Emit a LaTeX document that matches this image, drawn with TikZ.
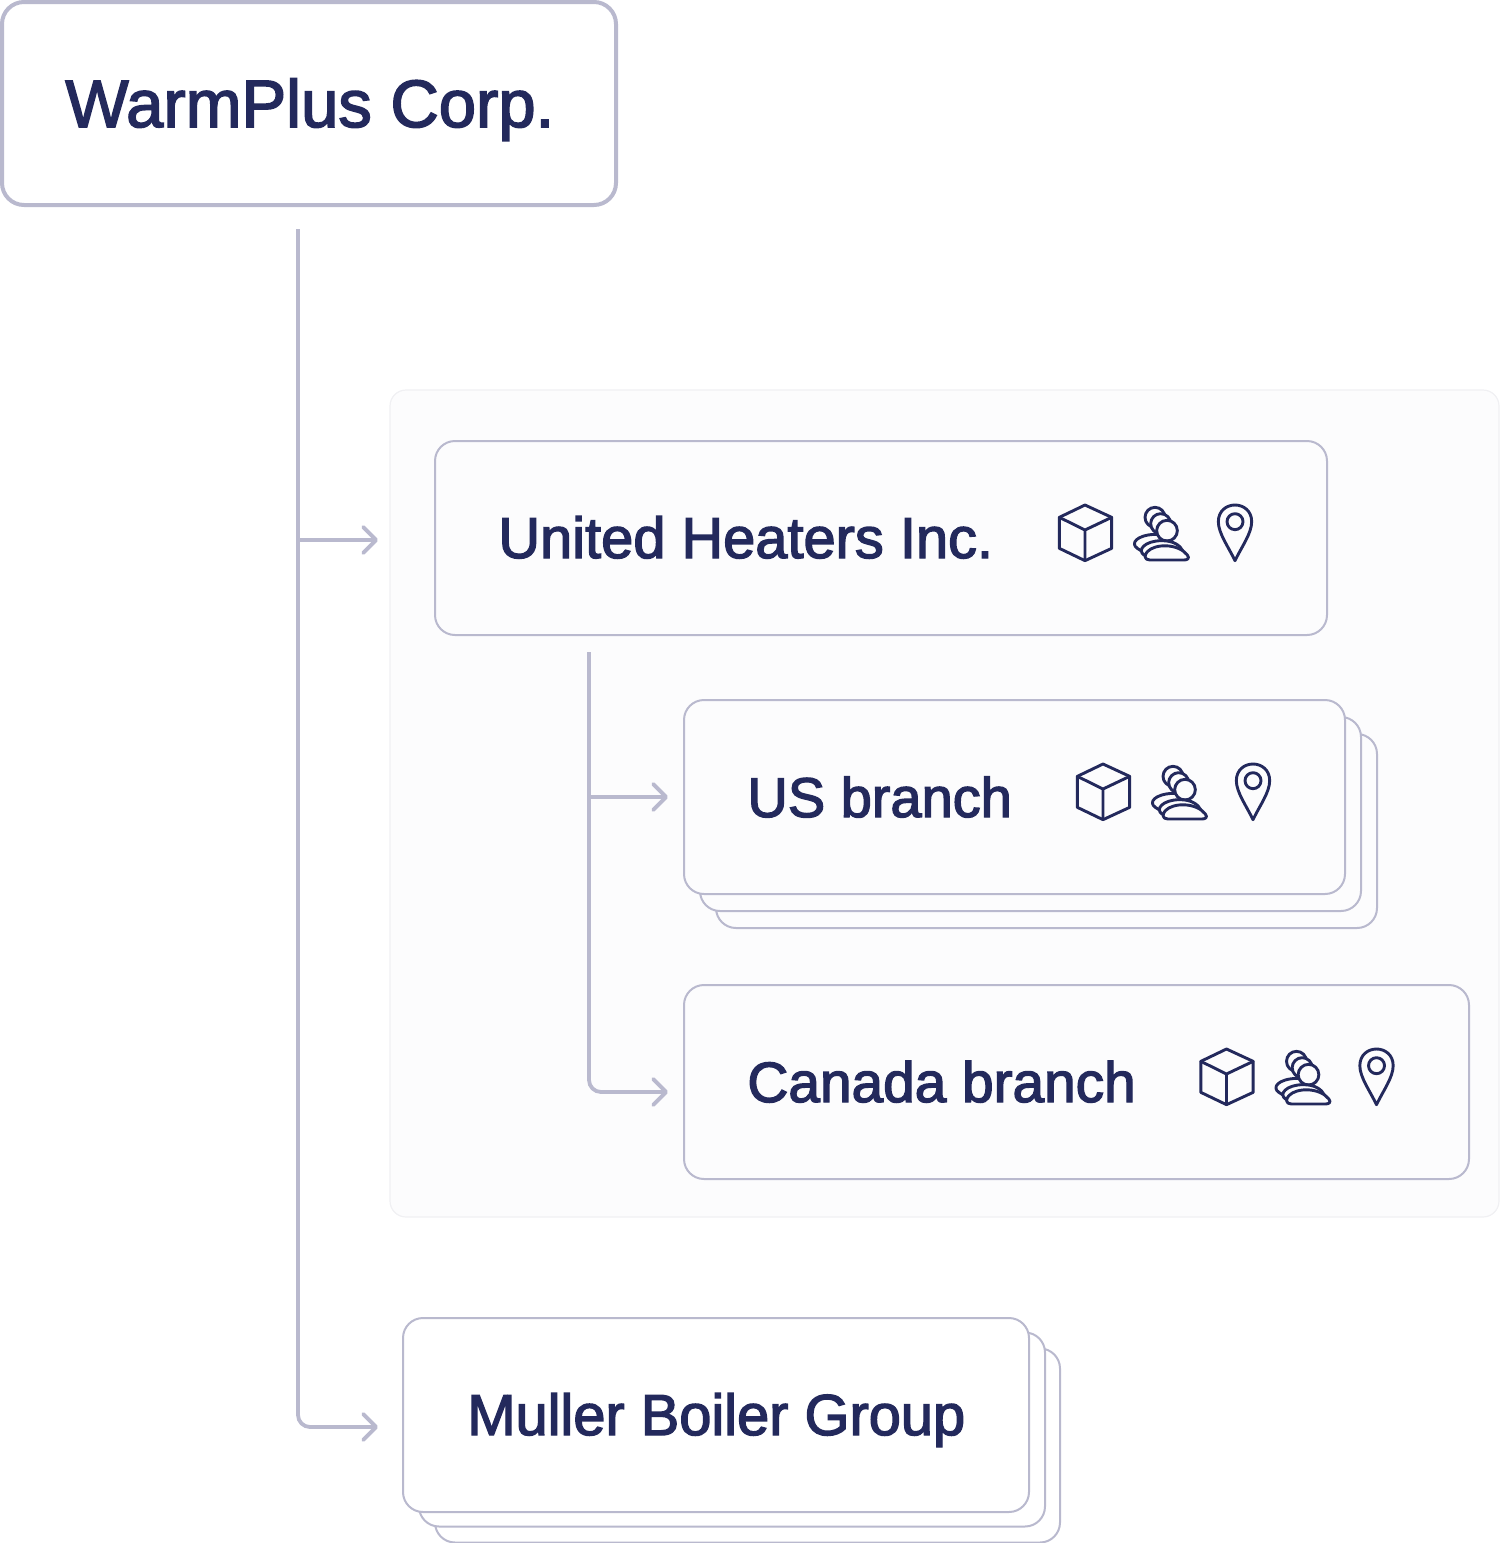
\documentclass[tikz,border=0pt]{standalone}
\usepackage{fontspec}
\setmainfont{Liberation Sans}[FakeBold=2.4]
\usetikzlibrary{arrows.meta}
\definecolor{ink}{HTML}{23295C}
\definecolor{edge}{HTML}{B9B9CE}
\definecolor{panelbg}{HTML}{FCFCFD}
\definecolor{paneledge}{HTML}{F0F0F3}
\tikzset{
  rbox/.style={draw=edge,line width=1pt,rounded corners=10pt,fill=panelbg,minimum height=97pt,inner sep=0pt},
  wbox/.style={rbox,fill=white},
  lbl/.style={text=ink,anchor=base west,inner sep=0pt},
  link/.style={draw=edge,line width=1.9pt,rounded corners=6pt,-{Straight Barb[length=6.5pt,width=13pt,round,line width=1.9pt]}},
  ico/.style={draw=ink,line width=1.45pt,line join=round,line cap=round,fill=panelbg},
}
\newcommand{\lblsize}[1]{\fontsize{#1}{#1}\selectfont}
% Icon group drawn in a local grid of 1/3 px, with (dx,dy) in px
\newcommand{\iconset}[2]{%
\begin{scope}[shift={(1040+#1,490+#2)},x=0.16667pt,y=-0.16667pt]
  % cube
  \draw[ico] (135,45) -- (215,82) -- (215,175) -- (135,212) -- (58,175) -- (58,82) -- cycle;
  \draw[ico] (58,82) -- (135,120) -- (215,82) (135,120) -- (135,212);
  % people
  \draw[ico] (345,82) circle[radius=30];
  \draw[ico] (362,101) circle[radius=30];
  \draw[ico] (292,175) .. controls (270,160) and (290,135) .. (345,133) .. controls (375,133) and (395,145) .. (400,165) -- (340,190) .. controls (320,190) and (305,185) .. (292,175) -- cycle;
  \draw[ico] (381,122) circle[radius=31];
  \draw[ico] (312,195) .. controls (290,180) and (315,152) .. (365,152) .. controls (400,152) and (420,165) .. (430,185) -- (340,205) .. controls (330,205) and (320,200) .. (312,195) -- cycle;
  \draw[ico] (330,210) .. controls (312,210) and (312,195) .. (322,185) .. controls (345,160) and (415,160) .. (442,195) .. controls (450,205) and (442,210) .. (432,210) -- cycle;
  % pin
  \draw[ico] (585,212) .. controls (565,170) and (535,130) .. (535,95) .. controls (535,62) and (560,45) .. (585,45) .. controls (610,45) and (635,62) .. (635,95) .. controls (635,130) and (605,170) .. (585,212) -- cycle;
  \draw[ico] (585,95) circle[radius=24];
\end{scope}}
\begin{document}
\begin{tikzpicture}[x=0.5pt,y=-0.5pt]
\useasboundingbox (0,0) rectangle (1500,1543);
% panel
\node[draw=paneledge,line width=0.6pt,fill=panelbg,rounded corners=8pt,minimum width=554.5pt,minimum height=413.5pt,inner sep=0pt] (panel) at (944.5,803.5) {};
% root
\node[draw=edge,line width=2pt,rounded corners=11pt,fill=white,minimum width=307pt,minimum height=101.5pt,inner sep=0pt] (root) at (309,103.5) {};
\node[lbl,font=\lblsize{33.5}] (rootlabel) at (65,127) {WarmPlus Corp.};
% United
\node[rbox,minimum width=446pt] (united) at (881,538) {};
\node[lbl,font=\lblsize{28.9}] (unitedlabel) at (498,558) {United Heaters Inc.};
\iconset{0}{0}
% US
\node[rbox,minimum width=330.5pt] (us3) at (1046.5,831) {};
\node[rbox,minimum width=330.5pt] (us2) at (1030.5,814) {};
\node[rbox,minimum width=330.5pt] (us) at (1014.5,797) {};
\node[lbl,font=\lblsize{28}] (uslabel) at (747,817) {US branch};
\iconset{18}{259}
% Canada
\node[rbox,minimum width=392.5pt] (canada) at (1076.5,1082) {};
\node[lbl,font=\lblsize{28.4}] (canadalabel) at (747,1102) {Canada branch};
\iconset{141.5}{544}
% Muller
\node[wbox,minimum width=312.5pt] (m3) at (747.5,1445.5) {};
\node[wbox,minimum width=313pt] (m2) at (732,1429.5) {};
\node[wbox,minimum width=313pt] (m) at (716,1415) {};
\node[lbl,font=\lblsize{28.9}] (mlabel) at (467,1435) {Muller Boiler Group};
% connectors
\coordinate (t0) at (298,229);
\coordinate (ua) at (378,540);
\coordinate (ma) at (378,1427);
\coordinate (s0) at (589,652);
\coordinate (usa) at (668,797);
\coordinate (caa) at (668,1092);
\draw[link] (t0) |- (ma);
\draw[link] (t0 |- ua) -- (ua);
\draw[link] (s0) |- (caa);
\draw[link] (s0 |- usa) -- (usa);
\end{tikzpicture}
\end{document}
